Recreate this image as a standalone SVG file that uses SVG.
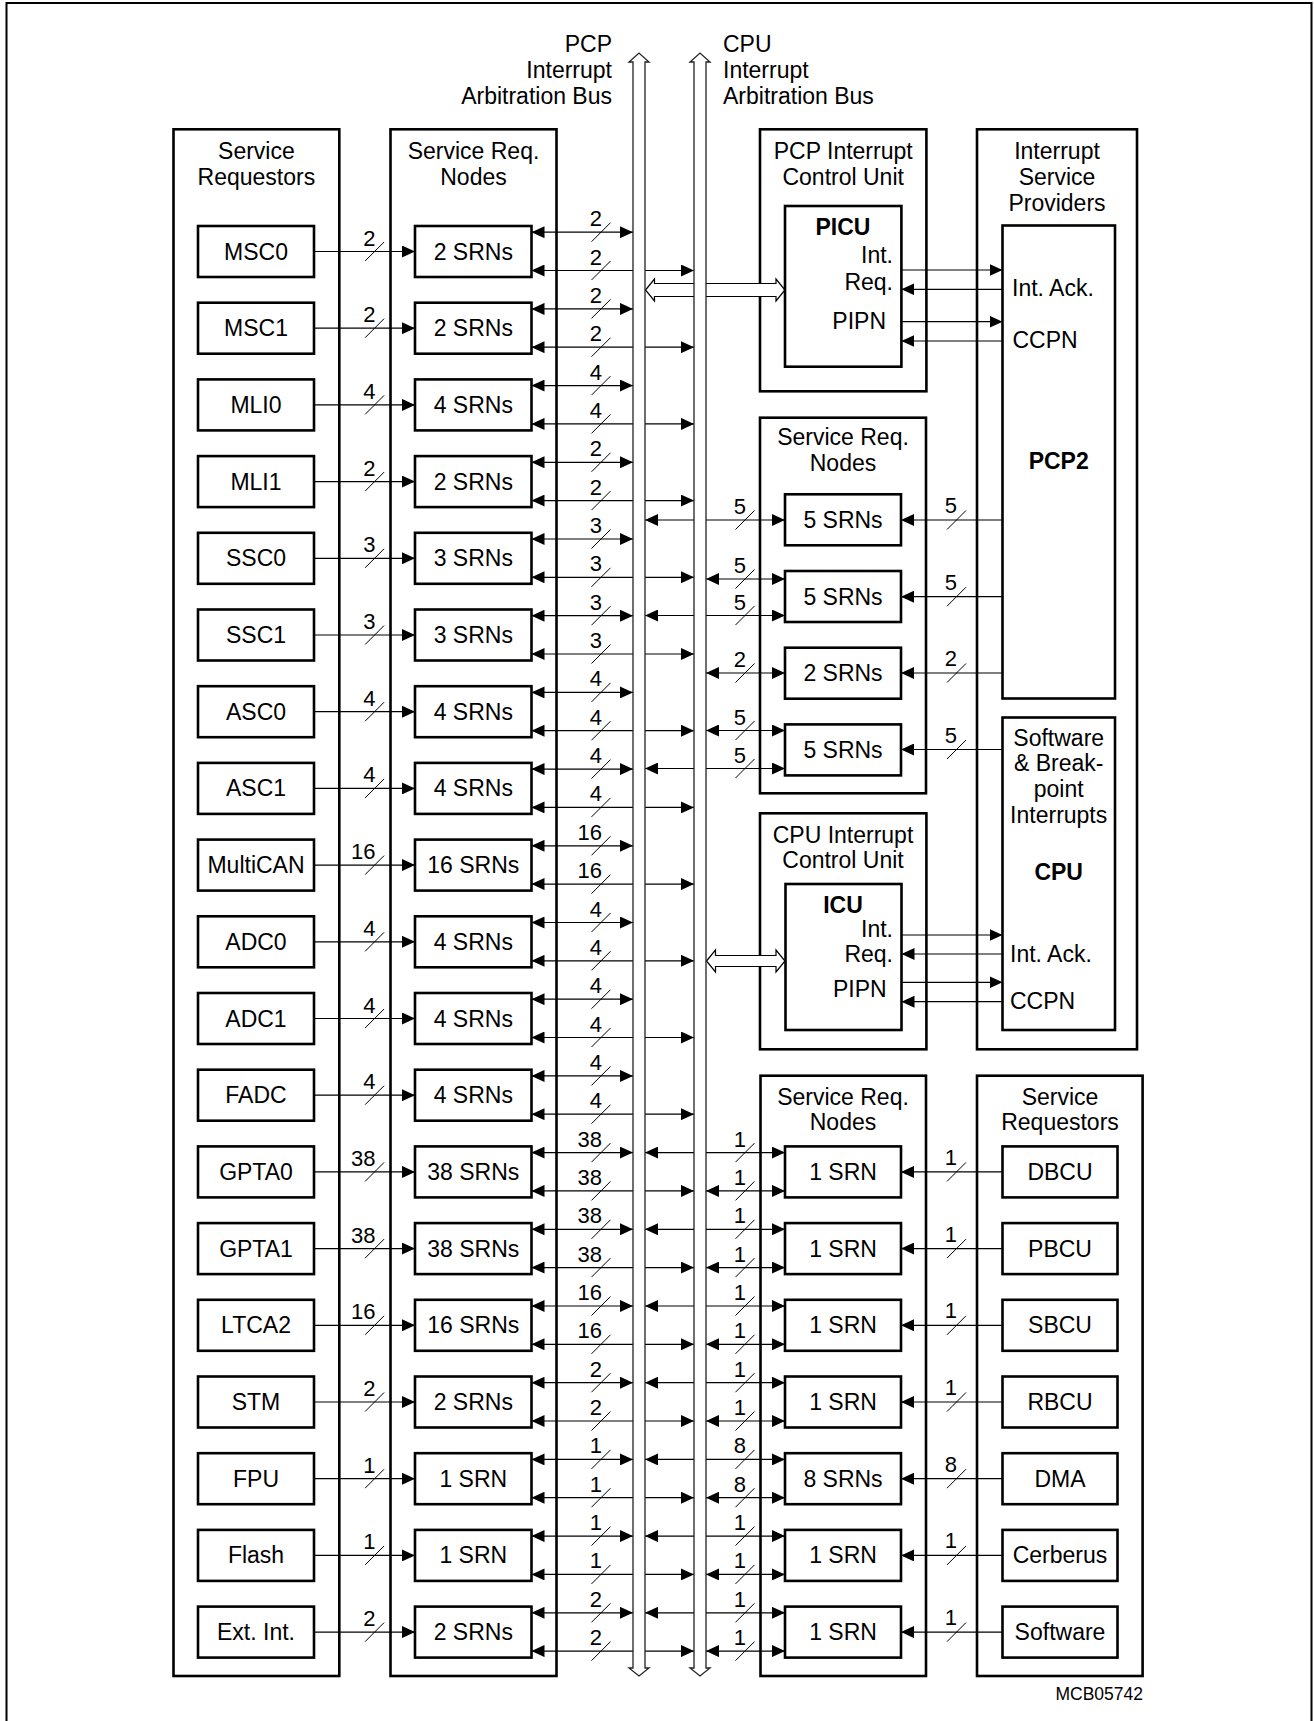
<svg xmlns="http://www.w3.org/2000/svg" xmlns:xlink="http://www.w3.org/1999/xlink" width="1314" height="1721" viewBox="0 0 1314 1721">
<style>
text{font-family:"Liberation Sans",Arial,sans-serif;font-size:23px;fill:#000}
.c{text-anchor:middle}
.e{text-anchor:end}
.b{font-weight:bold}
.n{font-size:22px;text-anchor:end}
.grp{fill:none;stroke:#000;stroke-width:2.6}
.bx{fill:#fff;stroke:#000;stroke-width:2.6}
.ln{fill:none;stroke:#000;stroke-width:1.2}
.a1{marker-end:url(#ah)}
.a2{marker-start:url(#ah);marker-end:url(#ah)}
.sl{stroke:#000;stroke-width:1}
.bus{fill:#fff;stroke:#222;stroke-width:1.3}
.blk{fill:#fff;stroke:#000;stroke-width:1.2}
</style>
<defs>
<marker id="ah" viewBox="0 0 13 12" refX="13" refY="6" markerWidth="13" markerHeight="12" markerUnits="userSpaceOnUse" orient="auto-start-reverse"><path d="M0,0 L13,6 L0,12 z" fill="#000"/></marker>
<path id="sl" d="M-9.5,9.5 L9.5,-9.5" class="sl"/>
</defs>
<rect x="0" y="0" width="1314" height="1721" fill="#fff"/>
<rect id="frame" x="6.5" y="3" width="1305" height="1740" fill="none" stroke="#000" stroke-width="2"/>

<!-- group boxes -->
<g id="grp-service-requestors"><rect class="grp" x="173.5" y="129.3" width="165.8" height="1546.7"/><text class="c" x="256.4" y="159.3">Service</text><text class="c" x="256.4" y="185">Requestors</text></g>
<g id="grp-srn-left"><rect class="grp" x="390.5" y="129.3" width="166" height="1546.7"/><text class="c" x="473.5" y="159.3">Service Req.</text><text class="c" x="473.5" y="185">Nodes</text></g>
<g id="grp-pcp-icu"><rect class="grp" x="760" y="129.3" width="166.4" height="262"/><text class="c" x="843.2" y="159.3">PCP Interrupt</text><text class="c" x="843.2" y="185">Control Unit</text></g>
<g id="grp-isp"><rect class="grp" x="977" y="129.3" width="160" height="920"/><text class="c" x="1057" y="159.3">Interrupt</text><text class="c" x="1057" y="185">Service</text><text class="c" x="1057" y="211">Providers</text></g>
<g id="grp-srn-mid"><rect class="grp" x="760" y="417.7" width="166" height="375.6"/><text class="c" x="843" y="445">Service Req.</text><text class="c" x="843" y="470.7">Nodes</text></g>
<g id="grp-cpu-icu"><rect class="grp" x="760" y="813.3" width="166.4" height="236"/><text class="c" x="843" y="843.3">CPU Interrupt</text><text class="c" x="843" y="868">Control Unit</text></g>
<g id="grp-srn-bottom"><rect class="grp" x="760.5" y="1075.7" width="165.5" height="600.3"/><text class="c" x="843" y="1104.5">Service Req.</text><text class="c" x="843" y="1130.2">Nodes</text></g>
<g id="grp-sr-right"><rect class="grp" x="977" y="1075.7" width="165.6" height="600.3"/><text class="c" x="1060" y="1104.5">Service</text><text class="c" x="1060" y="1130.2">Requestors</text></g>

<!-- connectors -->
<g id="connectors">
<!-- left requestors to SRNs -->
<path class="ln a1" d="M314,251.5H415"/><path class="ln a1" d="M314,328.2H415"/><path class="ln a1" d="M314,404.9H415"/><path class="ln a1" d="M314,481.6H415"/><path class="ln a1" d="M314,558.3H415"/><path class="ln a1" d="M314,635H415"/><path class="ln a1" d="M314,711.7H415"/><path class="ln a1" d="M314,788.4H415"/><path class="ln a1" d="M314,865.1H415"/><path class="ln a1" d="M314,941.8H415"/><path class="ln a1" d="M314,1018.5H415"/><path class="ln a1" d="M314,1095.2H415"/><path class="ln a1" d="M314,1171.9H415"/><path class="ln a1" d="M314,1248.6H415"/><path class="ln a1" d="M314,1325.3H415"/><path class="ln a1" d="M314,1402H415"/><path class="ln a1" d="M314,1478.7H415"/><path class="ln a1" d="M314,1555.4H415"/><path class="ln a1" d="M314,1632.1H415"/>
<!-- left SRNs to PCP bus (upper) -->
<path class="ln a2" d="M531.5,232.2H633"/><path class="ln a2" d="M531.5,308.9H633"/><path class="ln a2" d="M531.5,385.6H633"/><path class="ln a2" d="M531.5,462.3H633"/><path class="ln a2" d="M531.5,539H633"/><path class="ln a2" d="M531.5,615.7H633"/><path class="ln a2" d="M531.5,692.4H633"/><path class="ln a2" d="M531.5,769.1H633"/><path class="ln a2" d="M531.5,845.8H633"/><path class="ln a2" d="M531.5,922.5H633"/><path class="ln a2" d="M531.5,999.2H633"/><path class="ln a2" d="M531.5,1075.9H633"/><path class="ln a2" d="M531.5,1152.6H633"/><path class="ln a2" d="M531.5,1229.3H633"/><path class="ln a2" d="M531.5,1306H633"/><path class="ln a2" d="M531.5,1382.7H633"/><path class="ln a2" d="M531.5,1459.4H633"/><path class="ln a2" d="M531.5,1536.1H633"/><path class="ln a2" d="M531.5,1612.8H633"/>
<!-- left SRNs to CPU bus (lower) -->
<path class="ln a2" d="M531.5,270.5H694"/><path class="ln a2" d="M531.5,347.2H694"/><path class="ln a2" d="M531.5,423.9H694"/><path class="ln a2" d="M531.5,500.6H694"/><path class="ln a2" d="M531.5,577.3H694"/><path class="ln a2" d="M531.5,654H694"/><path class="ln a2" d="M531.5,730.7H694"/><path class="ln a2" d="M531.5,807.4H694"/><path class="ln a2" d="M531.5,884.1H694"/><path class="ln a2" d="M531.5,960.8H694"/><path class="ln a2" d="M531.5,1037.5H694"/><path class="ln a2" d="M531.5,1114.2H694"/><path class="ln a2" d="M531.5,1190.9H694"/><path class="ln a2" d="M531.5,1267.6H694"/><path class="ln a2" d="M531.5,1344.3H694"/><path class="ln a2" d="M531.5,1421H694"/><path class="ln a2" d="M531.5,1497.7H694"/><path class="ln a2" d="M531.5,1574.4H694"/><path class="ln a2" d="M531.5,1651.1H694"/>
<!-- mid right SRNs to buses -->
<path class="ln a2" d="M645,520H785"/>
<path class="ln a2" d="M706,579H785"/><path class="ln a2" d="M645,615.5H785"/>
<path class="ln a2" d="M706,673H785"/>
<path class="ln a2" d="M706,730.5H785"/><path class="ln a2" d="M645,768.5H785"/>
<!-- bottom right SRNs to buses -->
<path class="ln a2" d="M645,1152.6H785"/><path class="ln a2" d="M706,1190.9H785"/>
<path class="ln a2" d="M645,1229.3H785"/><path class="ln a2" d="M706,1267.6H785"/>
<path class="ln a2" d="M645,1306H785"/><path class="ln a2" d="M706,1344.3H785"/>
<path class="ln a2" d="M645,1382.7H785"/><path class="ln a2" d="M706,1421H785"/>
<path class="ln a2" d="M645,1459.4H785"/><path class="ln a2" d="M706,1497.7H785"/>
<path class="ln a2" d="M645,1536.1H785"/><path class="ln a2" d="M706,1574.4H785"/>
<path class="ln a2" d="M645,1612.8H785"/><path class="ln a2" d="M706,1651.1H785"/>
<!-- PCP2 / SW to mid SRNs -->
<path class="ln a1" d="M1002.5,520H901"/><path class="ln a1" d="M1002.5,596.7H901"/><path class="ln a1" d="M1002.5,673H901"/><path class="ln a1" d="M1002.5,749.5H901"/>
<!-- right requestors to bottom SRNs -->
<path class="ln a1" d="M1002.5,1171.9H901"/><path class="ln a1" d="M1002.5,1248.6H901"/><path class="ln a1" d="M1002.5,1325.3H901"/><path class="ln a1" d="M1002.5,1402H901"/><path class="ln a1" d="M1002.5,1478.7H901"/><path class="ln a1" d="M1002.5,1555.4H901"/><path class="ln a1" d="M1002.5,1632.1H901"/>
<!-- PICU <-> PCP2 -->
<path class="ln a1" d="M901.4,270H1002.5"/><path class="ln a1" d="M1002.5,289.3H901.4"/><path class="ln a1" d="M901.4,321.7H1002.5"/><path class="ln a1" d="M1002.5,341H901.4"/>
<!-- ICU <-> CPU -->
<path class="ln a1" d="M901.5,935H1002.5"/><path class="ln a1" d="M1002.5,954H901.5"/><path class="ln a1" d="M901.5,982.3H1002.5"/><path class="ln a1" d="M1002.5,1001.7H901.5"/>
<!-- block arrows bus to ICUs -->
<path class="blk" d="M645.5,290 L654.5,279 V283.5 H776 V279 L785,290 L776,301 V296.5 H654.5 V301 Z"/>
<path class="blk" d="M706.5,961 L715.5,950 V955.5 H776 V950 L785,961 L776,972 V966.5 H715.5 V972 Z"/>
</g>

<!-- buses -->
<g id="pcp-bus"><path class="bus" d="M633,62 H629 L639,53 L649,62 H645 V1668 H649 L639,1676 L629,1668 H633 Z"/><text class="e" x="612" y="52">PCP</text><text class="e" x="612" y="78">Interrupt</text><text class="e" x="612" y="104">Arbitration Bus</text></g>
<g id="cpu-bus"><path class="bus" d="M694,62 H690 L700,53 L710,62 H706 V1668 H710 L700,1676 L690,1668 H694 Z"/><text x="723" y="52">CPU</text><text x="723" y="78">Interrupt</text><text x="723" y="104">Arbitration Bus</text></g>

<!-- left requestor nodes -->
<g id="msc0"><rect class="bx" x="198" y="226" width="116" height="51"/><text class="c" x="256" y="259.5">MSC0</text></g>
<g id="msc1"><rect class="bx" x="198" y="302.7" width="116" height="51"/><text class="c" x="256" y="336.2">MSC1</text></g>
<g id="mli0"><rect class="bx" x="198" y="379.4" width="116" height="51"/><text class="c" x="256" y="412.9">MLI0</text></g>
<g id="mli1"><rect class="bx" x="198" y="456.1" width="116" height="51"/><text class="c" x="256" y="489.6">MLI1</text></g>
<g id="ssc0"><rect class="bx" x="198" y="532.8" width="116" height="51"/><text class="c" x="256" y="566.3">SSC0</text></g>
<g id="ssc1"><rect class="bx" x="198" y="609.5" width="116" height="51"/><text class="c" x="256" y="643">SSC1</text></g>
<g id="asc0"><rect class="bx" x="198" y="686.2" width="116" height="51"/><text class="c" x="256" y="719.7">ASC0</text></g>
<g id="asc1"><rect class="bx" x="198" y="762.9" width="116" height="51"/><text class="c" x="256" y="796.4">ASC1</text></g>
<g id="multican"><rect class="bx" x="198" y="839.6" width="116" height="51"/><text class="c" x="256" y="873.1">MultiCAN</text></g>
<g id="adc0"><rect class="bx" x="198" y="916.3" width="116" height="51"/><text class="c" x="256" y="949.8">ADC0</text></g>
<g id="adc1"><rect class="bx" x="198" y="993" width="116" height="51"/><text class="c" x="256" y="1026.5">ADC1</text></g>
<g id="fadc"><rect class="bx" x="198" y="1069.7" width="116" height="51"/><text class="c" x="256" y="1103.2">FADC</text></g>
<g id="gpta0"><rect class="bx" x="198" y="1146.4" width="116" height="51"/><text class="c" x="256" y="1179.9">GPTA0</text></g>
<g id="gpta1"><rect class="bx" x="198" y="1223.1" width="116" height="51"/><text class="c" x="256" y="1256.6">GPTA1</text></g>
<g id="ltca2"><rect class="bx" x="198" y="1299.8" width="116" height="51"/><text class="c" x="256" y="1333.3">LTCA2</text></g>
<g id="stm"><rect class="bx" x="198" y="1376.5" width="116" height="51"/><text class="c" x="256" y="1410">STM</text></g>
<g id="fpu"><rect class="bx" x="198" y="1453.2" width="116" height="51"/><text class="c" x="256" y="1486.7">FPU</text></g>
<g id="flash"><rect class="bx" x="198" y="1529.9" width="116" height="51"/><text class="c" x="256" y="1563.4">Flash</text></g>
<g id="extint"><rect class="bx" x="198" y="1606.6" width="116" height="51"/><text class="c" x="256" y="1640.1">Ext. Int.</text></g>

<!-- left SRN nodes -->
<g id="srn-msc0"><rect class="bx" x="415" y="226" width="116.5" height="51"/><text class="c" x="473.3" y="259.5">2 SRNs</text></g>
<g id="srn-msc1"><rect class="bx" x="415" y="302.7" width="116.5" height="51"/><text class="c" x="473.3" y="336.2">2 SRNs</text></g>
<g id="srn-mli0"><rect class="bx" x="415" y="379.4" width="116.5" height="51"/><text class="c" x="473.3" y="412.9">4 SRNs</text></g>
<g id="srn-mli1"><rect class="bx" x="415" y="456.1" width="116.5" height="51"/><text class="c" x="473.3" y="489.6">2 SRNs</text></g>
<g id="srn-ssc0"><rect class="bx" x="415" y="532.8" width="116.5" height="51"/><text class="c" x="473.3" y="566.3">3 SRNs</text></g>
<g id="srn-ssc1"><rect class="bx" x="415" y="609.5" width="116.5" height="51"/><text class="c" x="473.3" y="643">3 SRNs</text></g>
<g id="srn-asc0"><rect class="bx" x="415" y="686.2" width="116.5" height="51"/><text class="c" x="473.3" y="719.7">4 SRNs</text></g>
<g id="srn-asc1"><rect class="bx" x="415" y="762.9" width="116.5" height="51"/><text class="c" x="473.3" y="796.4">4 SRNs</text></g>
<g id="srn-multican"><rect class="bx" x="415" y="839.6" width="116.5" height="51"/><text class="c" x="473.3" y="873.1">16 SRNs</text></g>
<g id="srn-adc0"><rect class="bx" x="415" y="916.3" width="116.5" height="51"/><text class="c" x="473.3" y="949.8">4 SRNs</text></g>
<g id="srn-adc1"><rect class="bx" x="415" y="993" width="116.5" height="51"/><text class="c" x="473.3" y="1026.5">4 SRNs</text></g>
<g id="srn-fadc"><rect class="bx" x="415" y="1069.7" width="116.5" height="51"/><text class="c" x="473.3" y="1103.2">4 SRNs</text></g>
<g id="srn-gpta0"><rect class="bx" x="415" y="1146.4" width="116.5" height="51"/><text class="c" x="473.3" y="1179.9">38 SRNs</text></g>
<g id="srn-gpta1"><rect class="bx" x="415" y="1223.1" width="116.5" height="51"/><text class="c" x="473.3" y="1256.6">38 SRNs</text></g>
<g id="srn-ltca2"><rect class="bx" x="415" y="1299.8" width="116.5" height="51"/><text class="c" x="473.3" y="1333.3">16 SRNs</text></g>
<g id="srn-stm"><rect class="bx" x="415" y="1376.5" width="116.5" height="51"/><text class="c" x="473.3" y="1410">2 SRNs</text></g>
<g id="srn-fpu"><rect class="bx" x="415" y="1453.2" width="116.5" height="51"/><text class="c" x="473.3" y="1486.7">1 SRN</text></g>
<g id="srn-flash"><rect class="bx" x="415" y="1529.9" width="116.5" height="51"/><text class="c" x="473.3" y="1563.4">1 SRN</text></g>
<g id="srn-extint"><rect class="bx" x="415" y="1606.6" width="116.5" height="51"/><text class="c" x="473.3" y="1640.1">2 SRNs</text></g>

<!-- PICU / ICU -->
<g id="picu"><rect class="bx" x="785" y="206" width="116.4" height="160.7"/><text class="c b" x="843" y="235">PICU</text><text class="e" x="893" y="263.3">Int.</text><text class="e" x="893" y="290">Req.</text><text class="e" x="886" y="329.3">PIPN</text></g>
<g id="icu"><rect class="bx" x="785.5" y="884" width="116" height="146"/><text class="c b" x="843" y="913">ICU</text><text class="e" x="893" y="936.7">Int.</text><text class="e" x="893" y="961.7">Req.</text><text class="e" x="886.7" y="997.3">PIPN</text></g>

<!-- service providers -->
<g id="pcp2"><rect class="bx" x="1002.5" y="225.5" width="112.5" height="473"/><text x="1012" y="295.7">Int. Ack.</text><text x="1012.5" y="348.3">CCPN</text><text class="c b" x="1058.7" y="469">PCP2</text></g>
<g id="cpu"><rect class="bx" x="1002.5" y="717.5" width="112.5" height="312.5"/><text class="c" x="1058.7" y="745.5">Software</text><text class="c" x="1058.7" y="771">&amp; Break-</text><text class="c" x="1058.7" y="796.7">point</text><text class="c" x="1058.7" y="822.7">Interrupts</text><text class="c b" x="1058.7" y="880">CPU</text><text x="1010" y="961.7">Int. Ack.</text><text x="1010" y="1009.3">CCPN</text></g>

<!-- mid right SRNs -->
<g id="srn-pcp-a"><rect class="bx" x="785" y="494.3" width="116" height="51"/><text class="c" x="843" y="527.8">5 SRNs</text></g>
<g id="srn-pcp-b"><rect class="bx" x="785" y="571" width="116" height="51"/><text class="c" x="843" y="604.5">5 SRNs</text></g>
<g id="srn-pcp-c"><rect class="bx" x="785" y="647.7" width="116" height="51"/><text class="c" x="843" y="681.2">2 SRNs</text></g>
<g id="srn-sw"><rect class="bx" x="785" y="724.4" width="116" height="51"/><text class="c" x="843" y="757.9">5 SRNs</text></g>

<!-- bottom right SRNs -->
<g id="srn-dbcu"><rect class="bx" x="785" y="1146.4" width="116" height="51"/><text class="c" x="843" y="1179.9">1 SRN</text></g>
<g id="srn-pbcu"><rect class="bx" x="785" y="1223.1" width="116" height="51"/><text class="c" x="843" y="1256.6">1 SRN</text></g>
<g id="srn-sbcu"><rect class="bx" x="785" y="1299.8" width="116" height="51"/><text class="c" x="843" y="1333.3">1 SRN</text></g>
<g id="srn-rbcu"><rect class="bx" x="785" y="1376.5" width="116" height="51"/><text class="c" x="843" y="1410">1 SRN</text></g>
<g id="srn-dma"><rect class="bx" x="785" y="1453.2" width="116" height="51"/><text class="c" x="843" y="1486.7">8 SRNs</text></g>
<g id="srn-cerberus"><rect class="bx" x="785" y="1529.9" width="116" height="51"/><text class="c" x="843" y="1563.4">1 SRN</text></g>
<g id="srn-software"><rect class="bx" x="785" y="1606.6" width="116" height="51"/><text class="c" x="843" y="1640.1">1 SRN</text></g>

<!-- right requestors -->
<g id="dbcu"><rect class="bx" x="1002.5" y="1146.4" width="115" height="51"/><text class="c" x="1060" y="1179.9">DBCU</text></g>
<g id="pbcu"><rect class="bx" x="1002.5" y="1223.1" width="115" height="51"/><text class="c" x="1060" y="1256.6">PBCU</text></g>
<g id="sbcu"><rect class="bx" x="1002.5" y="1299.8" width="115" height="51"/><text class="c" x="1060" y="1333.3">SBCU</text></g>
<g id="rbcu"><rect class="bx" x="1002.5" y="1376.5" width="115" height="51"/><text class="c" x="1060" y="1410">RBCU</text></g>
<g id="dma"><rect class="bx" x="1002.5" y="1453.2" width="115" height="51"/><text class="c" x="1060" y="1486.7">DMA</text></g>
<g id="cerberus"><rect class="bx" x="1002.5" y="1529.9" width="115" height="51"/><text class="c" x="1060" y="1563.4">Cerberus</text></g>
<g id="software"><rect class="bx" x="1002.5" y="1606.6" width="115" height="51"/><text class="c" x="1060" y="1640.1">Software</text></g>

<!-- width markers (slashes and numbers) -->
<g id="width-labels">
<use href="#sl" x="374.6" y="251.5"/><text class="n" x="375.5" y="245.5">2</text>
<use href="#sl" x="374.6" y="328.2"/><text class="n" x="375.5" y="322.2">2</text>
<use href="#sl" x="374.6" y="404.9"/><text class="n" x="375.5" y="398.9">4</text>
<use href="#sl" x="374.6" y="481.6"/><text class="n" x="375.5" y="475.6">2</text>
<use href="#sl" x="374.6" y="558.3"/><text class="n" x="375.5" y="552.3">3</text>
<use href="#sl" x="374.6" y="635"/><text class="n" x="375.5" y="629">3</text>
<use href="#sl" x="374.6" y="711.7"/><text class="n" x="375.5" y="705.7">4</text>
<use href="#sl" x="374.6" y="788.4"/><text class="n" x="375.5" y="782.4">4</text>
<use href="#sl" x="374.6" y="865.1"/><text class="n" x="375.5" y="859.1">16</text>
<use href="#sl" x="374.6" y="941.8"/><text class="n" x="375.5" y="935.8">4</text>
<use href="#sl" x="374.6" y="1018.5"/><text class="n" x="375.5" y="1012.5">4</text>
<use href="#sl" x="374.6" y="1095.2"/><text class="n" x="375.5" y="1089.2">4</text>
<use href="#sl" x="374.6" y="1171.9"/><text class="n" x="375.5" y="1165.9">38</text>
<use href="#sl" x="374.6" y="1248.6"/><text class="n" x="375.5" y="1242.6">38</text>
<use href="#sl" x="374.6" y="1325.3"/><text class="n" x="375.5" y="1319.3">16</text>
<use href="#sl" x="374.6" y="1402"/><text class="n" x="375.5" y="1396">2</text>
<use href="#sl" x="374.6" y="1478.7"/><text class="n" x="375.5" y="1472.7">1</text>
<use href="#sl" x="374.6" y="1555.4"/><text class="n" x="375.5" y="1549.4">1</text>
<use href="#sl" x="374.6" y="1632.1"/><text class="n" x="375.5" y="1626.1">2</text>
<use href="#sl" x="601" y="232.2"/><text class="n" x="602" y="226.2">2</text><use href="#sl" x="601" y="270.5"/><text class="n" x="602" y="264.5">2</text>
<use href="#sl" x="601" y="308.9"/><text class="n" x="602" y="302.9">2</text><use href="#sl" x="601" y="347.2"/><text class="n" x="602" y="341.2">2</text>
<use href="#sl" x="601" y="385.6"/><text class="n" x="602" y="379.6">4</text><use href="#sl" x="601" y="423.9"/><text class="n" x="602" y="417.9">4</text>
<use href="#sl" x="601" y="462.3"/><text class="n" x="602" y="456.3">2</text><use href="#sl" x="601" y="500.6"/><text class="n" x="602" y="494.6">2</text>
<use href="#sl" x="601" y="539"/><text class="n" x="602" y="533">3</text><use href="#sl" x="601" y="577.3"/><text class="n" x="602" y="571.3">3</text>
<use href="#sl" x="601" y="615.7"/><text class="n" x="602" y="609.7">3</text><use href="#sl" x="601" y="654"/><text class="n" x="602" y="648">3</text>
<use href="#sl" x="601" y="692.4"/><text class="n" x="602" y="686.4">4</text><use href="#sl" x="601" y="730.7"/><text class="n" x="602" y="724.7">4</text>
<use href="#sl" x="601" y="769.1"/><text class="n" x="602" y="763.1">4</text><use href="#sl" x="601" y="807.4"/><text class="n" x="602" y="801.4">4</text>
<use href="#sl" x="601" y="845.8"/><text class="n" x="602" y="839.8">16</text><use href="#sl" x="601" y="884.1"/><text class="n" x="602" y="878.1">16</text>
<use href="#sl" x="601" y="922.5"/><text class="n" x="602" y="916.5">4</text><use href="#sl" x="601" y="960.8"/><text class="n" x="602" y="954.8">4</text>
<use href="#sl" x="601" y="999.2"/><text class="n" x="602" y="993.2">4</text><use href="#sl" x="601" y="1037.5"/><text class="n" x="602" y="1031.5">4</text>
<use href="#sl" x="601" y="1075.9"/><text class="n" x="602" y="1069.9">4</text><use href="#sl" x="601" y="1114.2"/><text class="n" x="602" y="1108.2">4</text>
<use href="#sl" x="601" y="1152.6"/><text class="n" x="602" y="1146.6">38</text><use href="#sl" x="601" y="1190.9"/><text class="n" x="602" y="1184.9">38</text>
<use href="#sl" x="601" y="1229.3"/><text class="n" x="602" y="1223.3">38</text><use href="#sl" x="601" y="1267.6"/><text class="n" x="602" y="1261.6">38</text>
<use href="#sl" x="601" y="1306"/><text class="n" x="602" y="1300">16</text><use href="#sl" x="601" y="1344.3"/><text class="n" x="602" y="1338.3">16</text>
<use href="#sl" x="601" y="1382.7"/><text class="n" x="602" y="1376.7">2</text><use href="#sl" x="601" y="1421"/><text class="n" x="602" y="1415">2</text>
<use href="#sl" x="601" y="1459.4"/><text class="n" x="602" y="1453.4">1</text><use href="#sl" x="601" y="1497.7"/><text class="n" x="602" y="1491.7">1</text>
<use href="#sl" x="601" y="1536.1"/><text class="n" x="602" y="1530.1">1</text><use href="#sl" x="601" y="1574.4"/><text class="n" x="602" y="1568.4">1</text>
<use href="#sl" x="601" y="1612.8"/><text class="n" x="602" y="1606.8">2</text><use href="#sl" x="601" y="1651.1"/><text class="n" x="602" y="1645.1">2</text>
<use href="#sl" x="745" y="520"/><text class="n" x="746" y="514">5</text>
<use href="#sl" x="745" y="579"/><text class="n" x="746" y="573">5</text><use href="#sl" x="745" y="615.5"/><text class="n" x="746" y="609.5">5</text>
<use href="#sl" x="745" y="673"/><text class="n" x="746" y="667">2</text>
<use href="#sl" x="745" y="730.5"/><text class="n" x="746" y="724.5">5</text><use href="#sl" x="745" y="768.5"/><text class="n" x="746" y="762.5">5</text>
<use href="#sl" x="745" y="1152.6"/><text class="n" x="746" y="1146.6">1</text><use href="#sl" x="745" y="1190.9"/><text class="n" x="746" y="1184.9">1</text>
<use href="#sl" x="745" y="1229.3"/><text class="n" x="746" y="1223.3">1</text><use href="#sl" x="745" y="1267.6"/><text class="n" x="746" y="1261.6">1</text>
<use href="#sl" x="745" y="1306"/><text class="n" x="746" y="1300">1</text><use href="#sl" x="745" y="1344.3"/><text class="n" x="746" y="1338.3">1</text>
<use href="#sl" x="745" y="1382.7"/><text class="n" x="746" y="1376.7">1</text><use href="#sl" x="745" y="1421"/><text class="n" x="746" y="1415">1</text>
<use href="#sl" x="745" y="1459.4"/><text class="n" x="746" y="1453.4">8</text><use href="#sl" x="745" y="1497.7"/><text class="n" x="746" y="1491.7">8</text>
<use href="#sl" x="745" y="1536.1"/><text class="n" x="746" y="1530.1">1</text><use href="#sl" x="745" y="1574.4"/><text class="n" x="746" y="1568.4">1</text>
<use href="#sl" x="745" y="1612.8"/><text class="n" x="746" y="1606.8">1</text><use href="#sl" x="745" y="1651.1"/><text class="n" x="746" y="1645.1">1</text>
<use href="#sl" x="956.5" y="520"/><text class="n" x="957" y="513">5</text>
<use href="#sl" x="956.5" y="596.7"/><text class="n" x="957" y="589.7">5</text>
<use href="#sl" x="956.5" y="673"/><text class="n" x="957" y="666">2</text>
<use href="#sl" x="956.5" y="749.5"/><text class="n" x="957" y="742.5">5</text>
<use href="#sl" x="956.5" y="1171.9"/><text class="n" x="957" y="1164.9">1</text>
<use href="#sl" x="956.5" y="1248.6"/><text class="n" x="957" y="1241.6">1</text>
<use href="#sl" x="956.5" y="1325.3"/><text class="n" x="957" y="1318.3">1</text>
<use href="#sl" x="956.5" y="1402"/><text class="n" x="957" y="1395">1</text>
<use href="#sl" x="956.5" y="1478.7"/><text class="n" x="957" y="1471.7">8</text>
<use href="#sl" x="956.5" y="1555.4"/><text class="n" x="957" y="1548.4">1</text>
<use href="#sl" x="956.5" y="1632.1"/><text class="n" x="957" y="1625.1">1</text>
</g>

<text class="e" x="1143" y="1700" style="font-size:17.5px">MCB05742</text>
</svg>
